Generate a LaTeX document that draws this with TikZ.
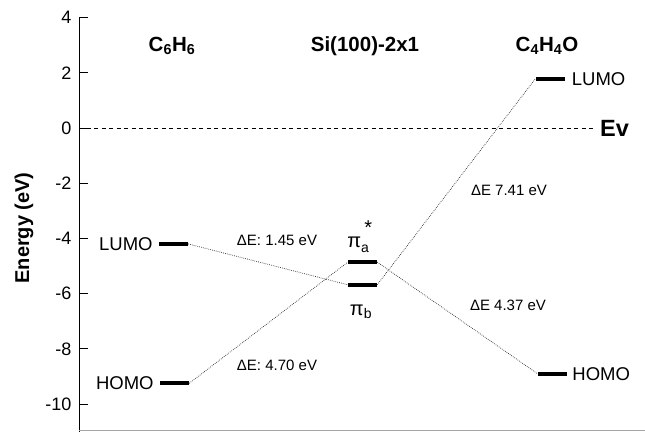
\documentclass[tikz,border=0pt]{standalone}
\usepackage{amsmath}
\usepackage{fontspec}
\setmainfont{Liberation Sans}
\usepackage{tikz}
\usetikzlibrary{positioning}

\begin{document}
\begin{tikzpicture}[
        x=1pt, y=27.6pt,
        level/.style={fill=black, inner sep=0pt, minimum width=29pt, minimum height=4.2pt},
        orbital/.style={inner sep=0pt, font=\fontsize{18.5}{20}\selectfont},
        gap/.style={inner sep=0pt, font=\fontsize{15}{17}\selectfont},
        title/.style={inner sep=0pt, font=\bfseries\fontsize{20.5}{23}\selectfont},
        ticklabel/.style={inner sep=0pt, anchor=east, font=\fontsize{18}{20}\selectfont},
        link/.style={line width=0.7pt, dash pattern=on 0.7pt off 1.2pt, draw=black!85}
    ]
        \useasboundingbox (0,-11.014) rectangle (645,4.638);

        \draw[line width=1pt] (79,4) -- (79,-11.014);
        \draw[gray!70, line width=1pt] (79,-10.96) -- (645,-10.96);
        \foreach \e in {4,2,...,-10} {
            \draw[line width=1pt] (79,\e) -- (88,\e);
            \node[ticklabel] at (71.5,\e) {\e};
        }
        \node[rotate=90, font=\bfseries\fontsize{20}{22}\selectfont] (energy) at (24,-3.62) {Energy (eV)};

        \node[title] (benzene) at (172,2.97) {C\textsubscript{6}H\textsubscript{6}};
        \node[title] (silicon) at (365,2.97) {Si(100)-2x1};
        \node[title] (furan) at (547,2.97) {C\textsubscript{4}H\textsubscript{4}O};

        \coordinate (evstart) at (79,0);
        \node[title, anchor=west, font=\bfseries\fontsize{23.5}{26}\selectfont] (ev) at (600,0) {Ev};
        \draw[line width=0.7pt, dash pattern=on 4pt off 3.5pt, shorten >=7pt] (evstart) -- (ev.west);

        \node[level] (bzlumo) at (173.5,-4.2) {};
        \node[level] (bzhomo) at (174.5,-9.25) {};
        \node[level] (pia) at (362.5,-4.86) {};
        \node[level] (pib) at (362.5,-5.68) {};
        \node[level] (fulumo) at (550,1.78) {};
        \node[level] (fuhomo) at (552.5,-8.91) {};

        \node[orbital, left=6pt of bzlumo] (bzlumolabel) {LUMO};
        \node[orbital, left=6pt of bzhomo] (bzhomolabel) {HOMO};
        \node[orbital, right=7pt of fulumo] (fulumolabel) {LUMO};
        \node[orbital, right=5pt of fuhomo] (fuhomolabel) {HOMO};
        \node[orbital, font=\fontsize{20}{22}\selectfont] (pialabel) at (360,-3.95) {π$_{\text{a}}^{\raisebox{0.5ex}{\,*}}$};
        \node[orbital, font=\fontsize{20}{22}\selectfont] (piblabel) at (361,-6.67) {π$_{\text{b}}$};

        \node[gap] (gapbzlumo) at (277,-4.06) {ΔE: 1.45 eV};
        \node[gap] (gapbzhomo) at (277,-8.59) {ΔE: 4.70 eV};
        \node[gap] (gapfulumo) at (509,-2.25) {ΔE 7.41 eV};
        \node[gap] (gapfuhomo) at (508,-6.41) {ΔE 4.37 eV};

        \draw[link] (bzlumo.east) -- (pib.west);
        \draw[link] (bzhomo.east) -- (pia.west);
        \draw[link] (pib.east) -- (fulumo.west);
        \draw[link] (pia.east) -- (fuhomo.west);
    \end{tikzpicture}
\end{document}
